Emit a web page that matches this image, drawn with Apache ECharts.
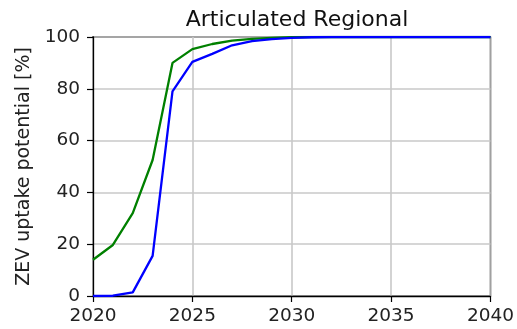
<!DOCTYPE html>
<html>
<head>
<meta charset="utf-8">
<script src="https://cdn.jsdelivr.net/npm/echarts@6/dist/echarts.min.js"></script>
<style>html,body{margin:0;padding:0;background:#fff}#c{width:517px;height:329px}</style>
</head>
<body>
<div id="c"></div>
<script>
const years = [2020,2021,2022,2023,2024,2025,2026,2027,2028,2029,2030,2031,2032,2033,2034,2035,2036,2037,2038,2039,2040];
const greenValues = [14,19.7,32,52.5,90,95.3,97.3,98.6,99.3,99.7,99.9,100,100,100,100,100,100,100,100,100,100];
const blueValues = [0,0.1,1.4,15.5,79,90.4,93.5,96.8,98.4,99.2,99.7,99.9,100,100,100,100,100,100,100,100,100];
const xTicks = [2020,2025,2030,2035,2040];
const yTicks = [0,20,40,60,80,100];

const font = 'DejaVu Sans';
const chart = echarts.init(document.getElementById('c'), null, {renderer:'canvas'});
chart.setOption({
  animation:false,
  backgroundColor:'#fff',
  title:{
    text:'Articulated Regional',
    left:292, top:4, textAlign:'center',
    textStyle:{fontFamily:font, fontSize:22, fontWeight:'normal', color:'#111'}
  },
  grid:{left:93, right:25, top:37, bottom:33, show:true, borderColor:'#000', borderWidth:1.3, backgroundColor:'transparent'},
  xAxis:{
    type:'value', min:xTicks[0], max:xTicks[xTicks.length-1], interval:5,
    axisLine:{show:true, lineStyle:{color:'#000', width:1.3}},
    axisTick:{show:true, length:6, lineStyle:{color:'#000', width:1.2}},
    axisLabel:{fontFamily:font, fontSize:18.5, color:'#222', margin:11, formatter:v=>String(v)},
    splitLine:{show:true, lineStyle:{color:'#c8c8c8', width:1.6}}
  },
  yAxis:{
    type:'value', min:yTicks[0], max:yTicks[yTicks.length-1], interval:20,
    name:'ZEV uptake potential [%]', nameLocation:'middle', nameGap:58,
    nameTextStyle:{fontFamily:font, fontSize:19, color:'#222'},
    axisLine:{show:true, lineStyle:{color:'#000', width:1.3}},
    axisTick:{show:true, length:6, lineStyle:{color:'#000', width:1.2}},
    axisLabel:{fontFamily:font, fontSize:18.5, color:'#222', margin:13},
    splitLine:{show:true, lineStyle:{color:'#c8c8c8', width:1.6}}
  },
  series:[
    {type:'line', data:years.map((y,i)=>[y,greenValues[i]]), showSymbol:false, lineStyle:{color:'#008000', width:2.3}, z:3},
    {type:'line', data:years.map((y,i)=>[y,blueValues[i]]), showSymbol:false, lineStyle:{color:'#0000ff', width:2.3}, z:4}
  ]
});
</script>
</body>
</html>
